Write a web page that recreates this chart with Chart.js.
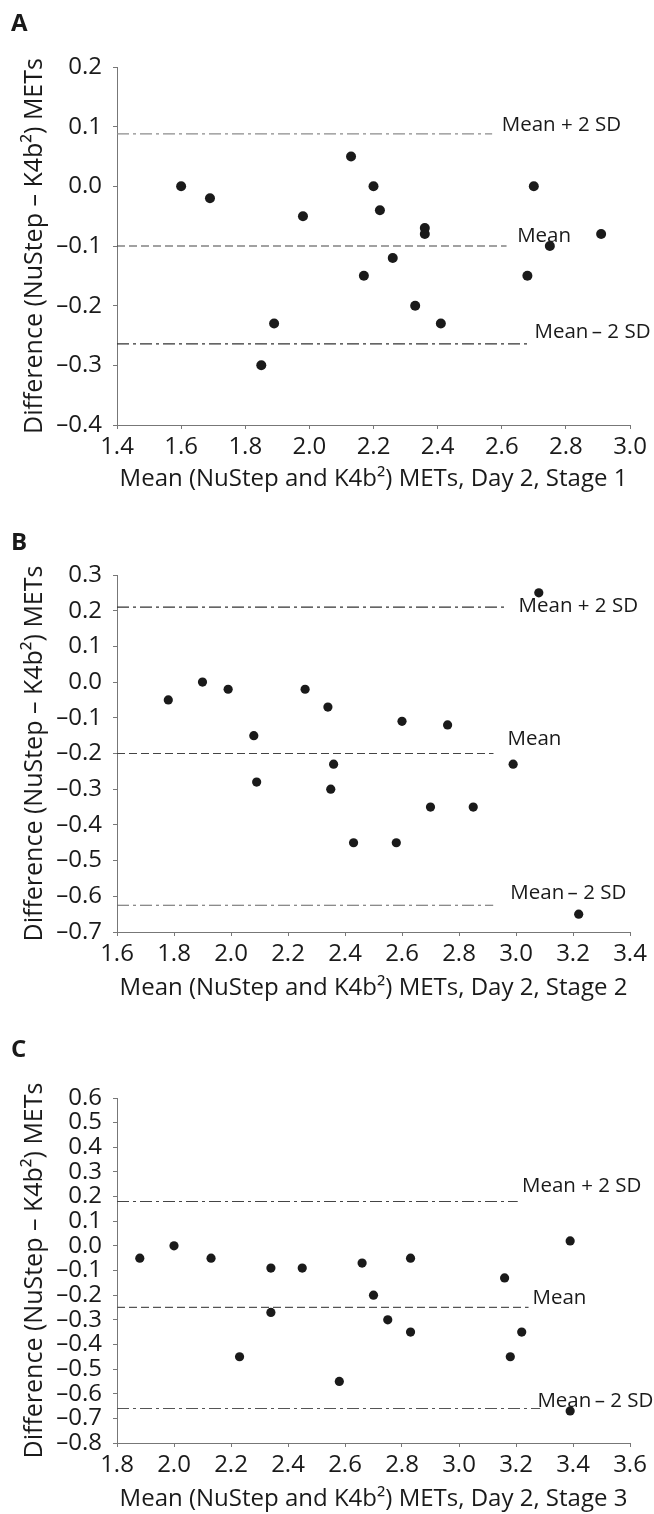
<!DOCTYPE html>
<html>
<head>
<meta charset="utf-8">
<script src="https://cdn.jsdelivr.net/npm/chart.js@4.4.1/dist/chart.umd.min.js"></script>
<style>
  html, body { margin: 0; padding: 0; background: #ffffff; }
  #wrap { position: relative; width: 654px; height: 1514px; }
  .panel { position: absolute; left: 0; width: 654px; }
</style>
</head>
<body>
<div id="wrap">
  <div class="panel" style="top:0px"><canvas id="chart-a" width="654" height="505"></canvas></div>
  <div class="panel" style="top:505px"><canvas id="chart-b" width="654" height="510"></canvas></div>
  <div class="panel" style="top:1015px"><canvas id="chart-c" width="654" height="499"></canvas></div>
</div>
<script>
// ─── Data: panel A (Day 2, Stage 1) ───────────────────────────────────
const xA = [1.60, 1.69, 1.85, 1.89, 1.98, 2.13, 2.17, 2.20, 2.22, 2.26, 2.33, 2.36, 2.36, 2.41, 2.68, 2.70, 2.75, 2.91];
const yA = [0.00, -0.02, -0.30, -0.23, -0.05, 0.05, -0.15, 0.00, -0.04, -0.12, -0.20, -0.07, -0.08, -0.23, -0.15, 0.00, -0.10, -0.08];
const limitsA = [0.088, -0.10, -0.264];        // mean + 2 SD, mean, mean - 2 SD
const limitEndA = [2.57, 2.615, 2.687];
const xTicksA = [1.4, 1.6, 1.8, 2.0, 2.2, 2.4, 2.6, 2.8, 3.0];
const yTicksA = [0.2, 0.1, 0.0, -0.1, -0.2, -0.3, -0.4];
const labelXA = [2.60, 2.648, 2.702];
const labelYA = [0.102, -0.083, -0.244];

// ─── Data: panel B (Day 2, Stage 2) ───────────────────────────────────
const xB = [1.78, 1.90, 1.99, 2.08, 2.09, 2.26, 2.34, 2.35, 2.36, 2.43, 2.58, 2.60, 2.70, 2.76, 2.85, 2.99, 3.08, 3.22];
const yB = [-0.05, 0.00, -0.02, -0.15, -0.28, -0.02, -0.07, -0.30, -0.23, -0.45, -0.45, -0.11, -0.35, -0.12, -0.35, -0.23, 0.25, -0.65];
const limitsB = [0.21, -0.20, -0.625];
const limitEndB = [2.958, 2.921, 2.92];
const xTicksB = [1.6, 1.8, 2.0, 2.2, 2.4, 2.6, 2.8, 3.0, 3.2, 3.4];
const yTicksB = [0.3, 0.2, 0.1, 0.0, -0.1, -0.2, -0.3, -0.4, -0.5, -0.6, -0.7];
const labelXB = [3.009, 2.97, 2.98];
const labelYB = [0.213, -0.161, -0.59];

// ─── Data: panel C (Day 2, Stage 3) ───────────────────────────────────
const xC = [1.88, 2.00, 2.13, 2.23, 2.34, 2.34, 2.45, 2.58, 2.66, 2.70, 2.75, 2.83, 2.83, 3.16, 3.18, 3.22, 3.39, 3.39];
const yC = [-0.05, 0.00, -0.05, -0.45, -0.09, -0.27, -0.09, -0.55, -0.07, -0.20, -0.30, -0.05, -0.35, -0.13, -0.45, -0.35, 0.02, -0.67];
const limitsC = [0.18, -0.25, -0.66];
const limitEndC = [3.206, 3.244, 3.285];
const xTicksC = [1.8, 2.0, 2.2, 2.4, 2.6, 2.8, 3.0, 3.2, 3.4, 3.6];
const yTicksC = [0.6, 0.5, 0.4, 0.3, 0.2, 0.1, 0.0, -0.1, -0.2, -0.3, -0.4, -0.5, -0.6, -0.7, -0.8];
const labelXC = [3.221, 3.258, 3.275];
const labelYC = [0.244, -0.212, -0.632];

const limitNames = ['Mean + 2 SD', 'Mean', 'Mean\u2009\u2013 2 SD'];
const FONT = "'Open Sans', 'DejaVu Sans', sans-serif";
const INK = '#1a1a1a';
const AXIS = '#777777';

function fmtTick(v) {
  const s = Math.abs(v).toFixed(1);
  return v < -1e-9 ? '\u2013' + s : s;
}

// letter + limit labels, drawn under the points
const annotate = {
  id: 'annotate',
  beforeDatasetsDraw(chart, args, opts) {
    const { ctx, scales: { x, y } } = chart;
    ctx.save();
    ctx.fillStyle = INK;
    ctx.textBaseline = 'middle';
    ctx.textAlign = 'left';
    ctx.font = `bold 24px ${FONT}`;
    ctx.fillText(opts.letter, 11, opts.letterY);
    ctx.font = `20.5px ${FONT}`;
    limitNames.forEach((t, i) => {
      ctx.fillText(t, x.getPixelForValue(opts.labelX[i]), y.getPixelForValue(opts.labelY[i]));
    });
    ctx.restore();
  }
};

function renderPanel(id, p) {
  const ctx = document.getElementById(id);
  const xMin = p.xTicks[0];
  const xMax = p.xTicks[p.xTicks.length - 1];
  const lineStyles = [
    { color: p.colors[0], dash: [12, 4, 3, 4] },
    { color: p.colors[1], dash: [8, 4] },
    { color: p.colors[2], dash: [12, 4, 3, 4] }
  ];

  const datasets = [{
    type: 'scatter',
    data: p.xs.map((v, i) => ({ x: v, y: p.ys[i] })),
    backgroundColor: INK,
    borderWidth: 0,
    pointRadius: p.radius,
    pointHoverRadius: p.radius
  }];
  p.limits.forEach((v, i) => {
    datasets.push({
      type: 'line',
      data: [{ x: xMin, y: v }, { x: p.ends[i], y: v }],
      borderColor: lineStyles[i].color,
      borderWidth: 1.2,
      borderDash: lineStyles[i].dash,
      pointRadius: 0,
      fill: false
    });
  });

  const tickFont = { family: FONT, size: 24 };
  new Chart(ctx, {
    type: 'scatter',
    data: { datasets },
    plugins: [annotate],
    options: {
      responsive: false,
      animation: false,
      devicePixelRatio: 1,
      layout: { padding: { top: p.padTop, right: 24, left: 0, bottom: 0 } },
      plugins: {
        legend: { display: false },
        tooltip: { enabled: false },
        annotate: { letter: p.letter, letterY: p.letterY, labelX: p.labelX, labelY: p.labelY }
      },
      scales: {
        x: {
          type: 'linear',
          min: xMin,
          max: xMax,
          afterBuildTicks: (s) => { s.ticks = p.xTicks.map(v => ({ value: v })); },
          afterFit: (s) => { s.height = p.xAxisH; },
          ticks: {
            callback: (v) => fmtTick(v),
            font: tickFont, color: INK, padding: 4, maxRotation: 0, autoSkip: false
          },
          grid: { drawOnChartArea: false, drawTicks: true, tickLength: 4, color: AXIS },
          border: { display: true, color: AXIS, width: 1 },
          title: {
            display: true,
            text: p.xTitle,
            font: { family: FONT, size: 24 }, color: INK,
            padding: { top: 0, bottom: p.xTitlePad }
          }
        },
        y: {
          type: 'linear',
          min: p.yTicks[p.yTicks.length - 1],
          max: p.yTicks[0],
          afterBuildTicks: (s) => { s.ticks = p.yTicks.slice().reverse().map(v => ({ value: v })); },
          afterFit: (s) => { s.width = 117; },
          ticks: {
            callback: (v) => fmtTick(v),
            font: tickFont, color: INK, padding: 11, autoSkip: false
          },
          grid: { drawOnChartArea: false, drawTicks: true, tickLength: 4, color: AXIS },
          border: { display: true, color: AXIS, width: 1 },
          title: {
            display: true,
            text: 'Difference (NuStep \u2013 K4b\u00b2) METs',
            font: { family: FONT, size: 25 }, color: INK,
            padding: { top: 20, bottom: 0 }
          }
        }
      }
    }
  });
}

renderPanel('chart-a', {
  letter: 'A', letterY: 24, padTop: 67, xAxisH: 80, xTitlePad: 11,
  xs: xA, ys: yA, limits: limitsA, ends: limitEndA,
  xTicks: xTicksA, yTicks: yTicksA, labelX: labelXA, labelY: labelYA,
  colors: ['#8c8c8c', '#444444', '#333333'], radius: 5,
  xTitle: 'Mean (NuStep and K4b\u00b2) METs, Day 2, Stage 1'
});

renderPanel('chart-b', {
  letter: 'B', letterY: 38, padTop: 70, xAxisH: 83, xTitlePad: 12,
  xs: xB, ys: yB, limits: limitsB, ends: limitEndB,
  xTicks: xTicksB, yTicks: yTicksB, labelX: labelXB, labelY: labelYB,
  colors: ['#333333', '#444444', '#666666'], radius: 4.6,
  xTitle: 'Mean (NuStep and K4b\u00b2) METs, Day 2, Stage 2'
});

renderPanel('chart-c', {
  letter: 'C', letterY: 35, padTop: 83, xAxisH: 71, xTitlePad: 0,
  xs: xC, ys: yC, limits: limitsC, ends: limitEndC,
  xTicks: xTicksC, yTicks: yTicksC, labelX: labelXC, labelY: labelYC,
  colors: ['#444444', '#555555', '#555555'], radius: 4.6,
  xTitle: 'Mean (NuStep and K4b\u00b2) METs, Day 2, Stage 3'
});
</script>
</body>
</html>
